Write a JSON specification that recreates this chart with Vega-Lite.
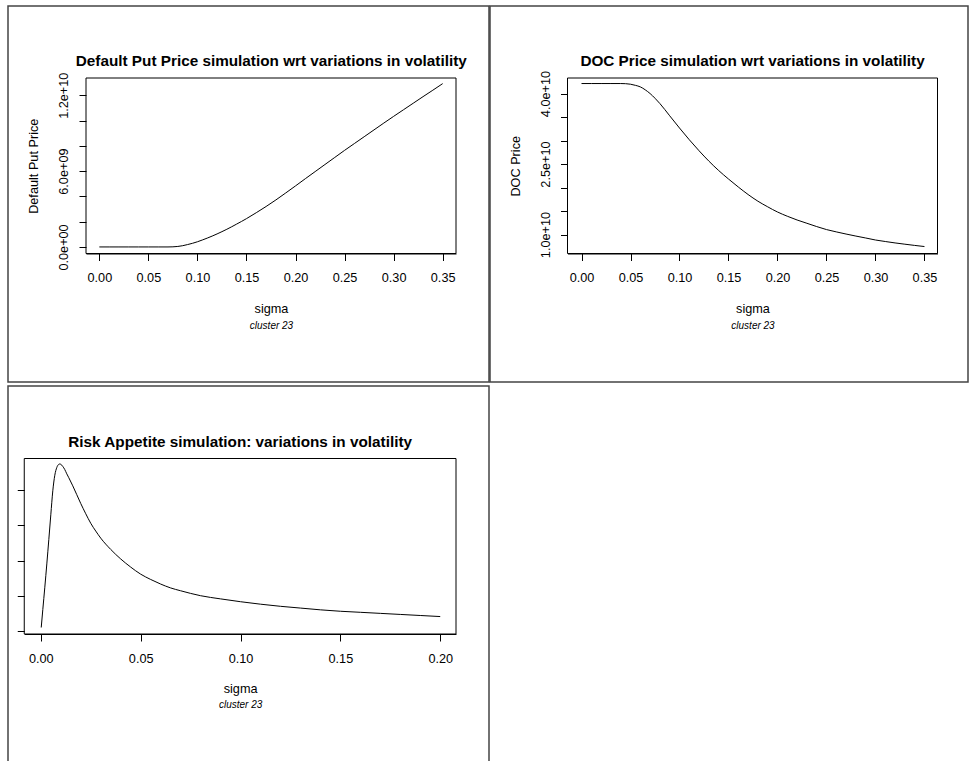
{
  "$schema": "https://vega.github.io/schema/vega-lite/v6.json",
  "padding": {"left": 7, "top": 5, "right": 0, "bottom": 0},
  "background": "white",
  "config": {
    "font": "Liberation Sans",
    "view": {"stroke": "#444", "strokeWidth": 1.5},
    "axis": {"grid": false, "domain": false, "tickColor": "#000", "tickSize": 7, "tickWidth": 1, "labelColor": "#000", "labelFont": "Liberation Sans", "labelFontSize": 12.7, "titleFont": "Liberation Sans", "titleFontSize": 12.7, "titleFontWeight": "normal", "titleColor": "#000", "labelOverlap": false, "labelBound": false, "labelFlush": false},
    "title": {"font": "Liberation Sans", "fontSize": 15.3, "fontWeight": "bold", "color": "#000", "anchor": "middle", "frame": "group", "baseline": "alphabetic"},
    "line": {"color": "#000", "strokeWidth": 1}
  },
  "datasets": {
    "put": [
      {"sigma": 0, "price": 0}, {"sigma": 0.01, "price": 0}, {"sigma": 0.02, "price": 0}, {"sigma": 0.03, "price": 0},
      {"sigma": 0.04, "price": 0}, {"sigma": 0.05, "price": 0}, {"sigma": 0.06, "price": 0}, {"sigma": 0.07, "price": 0},
      {"sigma": 0.075, "price": 10000000}, {"sigma": 0.08, "price": 40000000}, {"sigma": 0.085, "price": 100000000},
      {"sigma": 0.09, "price": 190000000}, {"sigma": 0.095, "price": 290000000}, {"sigma": 0.1, "price": 410000000},
      {"sigma": 0.105, "price": 550000000}, {"sigma": 0.11, "price": 700000000}, {"sigma": 0.115, "price": 860000000},
      {"sigma": 0.12, "price": 1030000000}, {"sigma": 0.125, "price": 1210000000}, {"sigma": 0.13, "price": 1400000000},
      {"sigma": 0.135, "price": 1600000000}, {"sigma": 0.14, "price": 1810000000}, {"sigma": 0.145, "price": 2020000000},
      {"sigma": 0.15, "price": 2240000000}, {"sigma": 0.16, "price": 2710000000}, {"sigma": 0.17, "price": 3200000000},
      {"sigma": 0.18, "price": 3720000000}, {"sigma": 0.19, "price": 4270000000}, {"sigma": 0.2, "price": 4830000000},
      {"sigma": 0.21, "price": 5400000000}, {"sigma": 0.22, "price": 5960000000}, {"sigma": 0.23, "price": 6520000000},
      {"sigma": 0.24, "price": 7080000000}, {"sigma": 0.25, "price": 7640000000}, {"sigma": 0.26, "price": 8180000000},
      {"sigma": 0.27, "price": 8720000000}, {"sigma": 0.28, "price": 9260000000}, {"sigma": 0.29, "price": 9800000000},
      {"sigma": 0.3, "price": 10330000000}, {"sigma": 0.31, "price": 10850000000}, {"sigma": 0.32, "price": 11370000000},
      {"sigma": 0.33, "price": 11890000000}, {"sigma": 0.34, "price": 12400000000}, {"sigma": 0.35, "price": 12920000000}
    ],
    "doc": [
      {"sigma": 0, "price": 42130000000}, {"sigma": 0.01, "price": 42130000000}, {"sigma": 0.02, "price": 42130000000},
      {"sigma": 0.03, "price": 42130000000}, {"sigma": 0.04, "price": 42130000000}, {"sigma": 0.045, "price": 42100000000},
      {"sigma": 0.05, "price": 41990000000}, {"sigma": 0.055, "price": 41750000000}, {"sigma": 0.06, "price": 41420000000},
      {"sigma": 0.065, "price": 40800000000}, {"sigma": 0.07, "price": 40000000000}, {"sigma": 0.075, "price": 39000000000},
      {"sigma": 0.08, "price": 37870000000}, {"sigma": 0.085, "price": 36600000000}, {"sigma": 0.09, "price": 35270000000},
      {"sigma": 0.1, "price": 32670000000}, {"sigma": 0.11, "price": 30170000000}, {"sigma": 0.12, "price": 27820000000},
      {"sigma": 0.13, "price": 25620000000}, {"sigma": 0.14, "price": 23620000000}, {"sigma": 0.15, "price": 21820000000},
      {"sigma": 0.16, "price": 20120000000}, {"sigma": 0.17, "price": 18520000000}, {"sigma": 0.18, "price": 17100000000},
      {"sigma": 0.19, "price": 15900000000}, {"sigma": 0.2, "price": 14800000000}, {"sigma": 0.21, "price": 13900000000},
      {"sigma": 0.22, "price": 13100000000}, {"sigma": 0.23, "price": 12400000000}, {"sigma": 0.24, "price": 11700000000},
      {"sigma": 0.25, "price": 11060000000}, {"sigma": 0.26, "price": 10570000000}, {"sigma": 0.27, "price": 10110000000},
      {"sigma": 0.28, "price": 9680000000}, {"sigma": 0.29, "price": 9270000000}, {"sigma": 0.3, "price": 8840000000},
      {"sigma": 0.31, "price": 8520000000}, {"sigma": 0.32, "price": 8220000000}, {"sigma": 0.33, "price": 7950000000},
      {"sigma": 0.34, "price": 7690000000}, {"sigma": 0.35, "price": 7450000000}
    ],
    "risk": [
      {"sigma": 0.0002, "ra": 0.11}, {"sigma": 0.001, "ra": 0.62}, {"sigma": 0.002, "ra": 1.25}, {"sigma": 0.003, "ra": 1.91},
      {"sigma": 0.004, "ra": 2.6}, {"sigma": 0.005, "ra": 3.3}, {"sigma": 0.006, "ra": 3.98}, {"sigma": 0.007, "ra": 4.42},
      {"sigma": 0.008, "ra": 4.64}, {"sigma": 0.009, "ra": 4.73}, {"sigma": 0.0095, "ra": 4.74}, {"sigma": 0.01, "ra": 4.73},
      {"sigma": 0.011, "ra": 4.67}, {"sigma": 0.012, "ra": 4.58}, {"sigma": 0.013, "ra": 4.46}, {"sigma": 0.014, "ra": 4.35},
      {"sigma": 0.016, "ra": 4.12}, {"sigma": 0.018, "ra": 3.87}, {"sigma": 0.02, "ra": 3.62}, {"sigma": 0.0225, "ra": 3.33},
      {"sigma": 0.025, "ra": 3.06}, {"sigma": 0.0275, "ra": 2.84}, {"sigma": 0.03, "ra": 2.64}, {"sigma": 0.035, "ra": 2.32},
      {"sigma": 0.04, "ra": 2.05}, {"sigma": 0.045, "ra": 1.82}, {"sigma": 0.05, "ra": 1.62}, {"sigma": 0.055, "ra": 1.47},
      {"sigma": 0.06, "ra": 1.34}, {"sigma": 0.065, "ra": 1.23}, {"sigma": 0.07, "ra": 1.15}, {"sigma": 0.08, "ra": 1.01},
      {"sigma": 0.09, "ra": 0.92}, {"sigma": 0.1, "ra": 0.84}, {"sigma": 0.11, "ra": 0.77}, {"sigma": 0.12, "ra": 0.71},
      {"sigma": 0.13, "ra": 0.66}, {"sigma": 0.14, "ra": 0.61}, {"sigma": 0.15, "ra": 0.57}, {"sigma": 0.16, "ra": 0.54},
      {"sigma": 0.17, "ra": 0.51}, {"sigma": 0.18, "ra": 0.48}, {"sigma": 0.19, "ra": 0.45}, {"sigma": 0.2, "ra": 0.42}
    ]
  },
  "spacing": 2,
  "vconcat": [
    {
      "spacing": -1,
      "hconcat": [
        {
          "width": 481, "height": 376,
          "title": {"text": "Default Put Price simulation wrt variations in volatility", "offset": -63, "dx": 22.75},
          "layer": [
            {
              "data": {"name": "put"},
              "mark": {"type": "line", "interpolate": "monotone"},
              "encoding": {
                "x": {"field": "sigma", "type": "quantitative",
                  "scale": {"domain": [-0.0136, 0.3636], "range": [78, 448], "nice": false, "zero": false},
                  "axis": {"title": "sigma", "orient": "bottom", "values": [0, 0.05, 0.1, 0.15, 0.2, 0.25, 0.3, 0.35], "format": ".2f", "offset": -128.5, "labelPadding": 11, "titlePadding": 18}},
                "y": {"field": "price", "type": "quantitative",
                  "scale": {"domain": [-518000000, 13365000000], "range": [247.5, 72], "nice": false, "zero": false},
                  "axis": {"title": "Default Put Price", "values": [0, 2000000000, 4000000000, 6000000000, 8000000000, 10000000000, 12000000000],
                    "labelExpr": "datum.value == 0 ? '0.0e+00' : datum.value == 6000000000 ? '6.0e+09' : datum.value == 12000000000 ? '1.2e+10' : ''",
                    "offset": -78, "labelAngle": 270, "labelAlign": "center", "labelBaseline": "bottom", "labelPadding": 9,
                    "titleAngle": 270, "titleBaseline": "bottom", "titlePadding": 17}}
              }
            },
            {
              "data": {"name": "put"},
              "mark": {"type": "rule", "opacity": 0},
              "encoding": {
                "x": {"field": "sigma", "type": "quantitative",
                  "axis": {"title": "cluster 23", "orient": "bottom", "labels": false, "ticks": false, "domain": true, "domainColor": "#000", "domainWidth": 1, "offset": -128.5, "titleFontStyle": "italic", "titleFontSize": 10, "titlePadding": 66.5}}
              }
            },
            {
              "data": {"values": [{}]},
              "mark": {"type": "rect", "filled": false, "stroke": "#000", "strokeWidth": 1},
              "encoding": {
                "x": {"datum": -0.0136, "type": "quantitative", "axis": null},
                "x2": {"datum": 0.3636},
                "y": {"datum": -518000000, "type": "quantitative", "axis": null},
                "y2": {"datum": 13365000000}
              }
            }
          ],
          "resolve": {"axis": {"x": "independent", "y": "independent"}}
        },
        {
          "width": 478, "height": 376,
          "title": {"text": "DOC Price simulation wrt variations in volatility", "offset": -63, "dx": 23.5},
          "layer": [
            {
              "data": {"name": "doc"},
              "mark": {"type": "line", "interpolate": "monotone"},
              "encoding": {
                "x": {"field": "sigma", "type": "quantitative",
                  "scale": {"domain": [-0.0143, 0.3633], "range": [77.5, 447.5], "nice": false, "zero": false},
                  "axis": {"title": "sigma", "orient": "bottom", "values": [0, 0.05, 0.1, 0.15, 0.2, 0.25, 0.3, 0.35], "format": ".2f", "offset": -128.5, "labelPadding": 11, "titlePadding": 18}},
                "y": {"field": "price", "type": "quantitative",
                  "scale": {"domain": [5970000000, 43310000000], "range": [247.5, 72], "nice": false, "zero": false},
                  "axis": {"title": "DOC Price", "values": [10000000000, 15000000000, 20000000000, 25000000000, 30000000000, 35000000000, 40000000000],
                    "labelExpr": "datum.value == 10000000000 ? '1.0e+10' : datum.value == 25000000000 ? '2.5e+10' : datum.value == 40000000000 ? '4.0e+10' : ''",
                    "offset": -77.5, "labelAngle": 270, "labelAlign": "center", "labelBaseline": "bottom", "labelPadding": 8,
                    "titleAngle": 270, "titleBaseline": "bottom", "titlePadding": 17}}
              }
            },
            {
              "data": {"name": "doc"},
              "mark": {"type": "rule", "opacity": 0},
              "encoding": {
                "x": {"field": "sigma", "type": "quantitative",
                  "axis": {"title": "cluster 23", "orient": "bottom", "labels": false, "ticks": false, "domain": true, "domainColor": "#000", "domainWidth": 1, "offset": -128.5, "titleFontStyle": "italic", "titleFontSize": 10, "titlePadding": 66.5}}
              }
            },
            {
              "data": {"values": [{}]},
              "mark": {"type": "rect", "filled": false, "stroke": "#000", "strokeWidth": 1},
              "encoding": {
                "x": {"datum": -0.0143, "type": "quantitative", "axis": null},
                "x2": {"datum": 0.3633},
                "y": {"datum": 5970000000, "type": "quantitative", "axis": null},
                "y2": {"datum": 43310000000}
              }
            }
          ],
          "resolve": {"axis": {"x": "independent", "y": "independent"}}
        }
      ]
    },
    {
      "width": 481, "height": 375,
      "view": {"strokeDash": [856, 481, 375]},
      "title": {"text": "Risk Appetite simulation: variations in volatility", "offset": -64.5, "dx": -8.35},
      "layer": [
        {
          "data": {"name": "risk"},
          "mark": {"type": "line", "interpolate": "monotone"},
          "encoding": {
            "x": {"field": "sigma", "type": "quantitative",
              "scale": {"domain": [-0.0083, 0.2079], "range": [16.25, 448], "nice": false, "zero": false},
              "axis": {"title": "sigma", "orient": "bottom", "values": [0, 0.05, 0.1, 0.15, 0.2], "format": ".2f", "offset": -127, "labelPadding": 11, "titlePadding": 17.5}},
            "y": {"field": "ra", "type": "quantitative",
              "scale": {"domain": [-0.074, 4.894], "range": [248, 72.5], "nice": false, "zero": false},
              "axis": {"title": null, "values": [0, 1, 2, 3, 4], "labels": false, "offset": -16.25}}
          }
        },
        {
          "data": {"name": "risk"},
          "mark": {"type": "rule", "opacity": 0},
          "encoding": {
            "x": {"field": "sigma", "type": "quantitative",
              "axis": {"title": "cluster 23", "orient": "bottom", "labels": false, "ticks": false, "domain": true, "domainColor": "#000", "domainWidth": 1, "offset": -127, "titleFontStyle": "italic", "titleFontSize": 10, "titlePadding": 65}}
          }
        },
        {
          "data": {"values": [{}]},
          "mark": {"type": "rect", "filled": false, "stroke": "#000", "strokeWidth": 1},
          "encoding": {
            "x": {"datum": -0.0083, "type": "quantitative", "axis": null},
            "x2": {"datum": 0.2079},
            "y": {"datum": -0.074, "type": "quantitative", "axis": null},
            "y2": {"datum": 4.894}
          }
        }
      ],
      "resolve": {"axis": {"x": "independent", "y": "independent"}}
    }
  ]
}
